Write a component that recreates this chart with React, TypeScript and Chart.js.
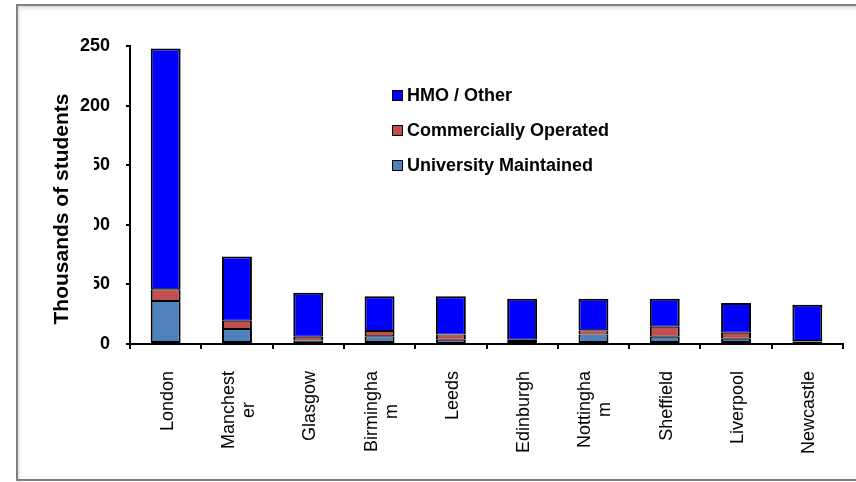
import React, { useEffect, useRef } from "react";
import { Chart, registerables } from "chart.js";

Chart.register(...registerables);

// Cities, with the label wrapping used on the category axis
const cities: string[][] = [
  ["London"],
  ["Manchest", "er"],
  ["Glasgow"],
  ["Birmingha", "m"],
  ["Leeds"],
  ["Edinburgh"],
  ["Nottingha", "m"],
  ["Sheffield"],
  ["Liverpool"],
  ["Newcastle"],
];

// Thousands of students by accommodation type
const universityMaintained = [36, 12.5, 3, 6.5, 3.5, 2.5, 8, 6, 4.5, 2];
const commerciallyOperated = [10, 7, 3, 4.5, 4.5, 1, 3.5, 8.5, 5, 0.5];
const hmoOther = [202, 54, 37, 29, 32, 34.5, 26.5, 23.5, 25, 30.5];

const yMin = 0;
const yMax = 250;
const yStep = 50;

const axisTitle = "Thousands of students";
const FONT = '"Liberation Sans", Arial, sans-serif';

const framePlugin = {
  id: "frame",
  beforeDraw(chart: any) {
    const { ctx, width, height } = chart;
    ctx.save();
    ctx.fillStyle = "#ffffff";
    ctx.fillRect(0, 0, width, height);
    // soft inner shade along top and left edges
    const gTop = ctx.createLinearGradient(0, 6, 0, 13);
    gTop.addColorStop(0, "rgba(200,200,200,0.7)");
    gTop.addColorStop(1, "rgba(255,255,255,0)");
    ctx.fillStyle = gTop;
    ctx.fillRect(18, 6, width, 7);
    const gLeft = ctx.createLinearGradient(18, 0, 24, 0);
    gLeft.addColorStop(0, "rgba(210,210,210,0.6)");
    gLeft.addColorStop(1, "rgba(255,255,255,0)");
    ctx.fillStyle = gLeft;
    ctx.fillRect(18, 6, 6, height);
    ctx.strokeStyle = "#808080";
    ctx.lineWidth = 2;
    ctx.strokeRect(17, 5, width + 20, 475);
    ctx.restore();
  },
};

const overlayPlugin = {
  id: "overlay",
  afterDraw(chart: any) {
    const { ctx, chartArea } = chart;
    const xScale = chart.scales.x;
    ctx.save();

    // category labels, rotated, wrapped lines centred in their block
    ctx.fillStyle = "#000000";
    ctx.font = `18px ${FONT}`;
    ctx.textBaseline = "middle";
    ctx.textAlign = "center";
    const lineH = 20;
    const labels = chart.data.labels as string[][];
    labels.forEach((lines, i) => {
      const x = xScale.getPixelForTick(i) + 2;
      const yTop = chartArea.bottom + 27;
      const blockW = Math.max(...lines.map((l) => ctx.measureText(l).width));
      ctx.save();
      ctx.translate(x, yTop);
      ctx.rotate(-Math.PI / 2);
      lines.forEach((line, j) => {
        const off = (j - (lines.length - 1) / 2) * lineH;
        ctx.fillText(line, -blockW / 2, off);
      });
      ctx.restore();
    });

    // axis title box and text
    ctx.fillStyle = "#ffffff";
    ctx.fillRect(40, 120, 54, 210);
    ctx.fillStyle = "#000000";
    ctx.font = `bold 21px ${FONT}`;
    ctx.textAlign = "center";
    ctx.textBaseline = "middle";
    ctx.translate(62, 209);
    ctx.rotate(-Math.PI / 2);
    ctx.fillText(axisTitle, 0, 0);
    ctx.restore();

    // legend, listed top-down in reverse stacking order
    ctx.save();
    ctx.font = `bold 18px ${FONT}`;
    ctx.textAlign = "left";
    ctx.textBaseline = "middle";
    const ds = chart.data.datasets;
    const lx = chartArea.left + 262;
    const ly = chartArea.top + 49;
    for (let k = 0; k < ds.length; k++) {
      const d = ds[ds.length - 1 - k];
      const cy = ly + k * 35;
      ctx.fillStyle = d.backgroundColor;
      ctx.fillRect(lx, cy - 5, 11, 11);
      ctx.strokeStyle = "#000000";
      ctx.lineWidth = 1;
      ctx.strokeRect(lx + 0.5, cy - 4.5, 10, 10);
      ctx.fillStyle = "#000000";
      ctx.fillText(d.label, lx + 15, cy + 1);
    }
    ctx.restore();
  },
};

export default function App() {
  const canvasRef = useRef<HTMLCanvasElement | null>(null);

  useEffect(() => {
    if (!canvasRef.current) return;
    const barStyle = {
      borderColor: "#000000",
      borderSkipped: false as const,
      barPercentage: 0.42,
      categoryPercentage: 1,
    };
    const chart = new Chart(canvasRef.current, {
      type: "bar",
      data: {
        labels: cities,
        datasets: [
          {
            label: "University Maintained",
            data: universityMaintained,
            backgroundColor: "#4F81BD",
            borderWidth: { top: 1, bottom: 2, left: 2, right: 2 },
            ...barStyle,
          },
          {
            label: "Commercially Operated",
            data: commerciallyOperated,
            backgroundColor: "#C0504D",
            borderWidth: { top: 1, bottom: 1, left: 2, right: 2 },
            ...barStyle,
          },
          {
            label: "HMO / Other",
            data: hmoOther,
            backgroundColor: "#0000FF",
            borderWidth: { top: 2, bottom: 1, left: 2, right: 2 },
            ...barStyle,
          },
        ],
      },
      options: {
        animation: false,
        responsive: false,
        layout: { padding: { top: 46, right: 13, bottom: 0, left: 0 } },
        plugins: {
          legend: { display: false },
          tooltip: { enabled: false },
        },
        scales: {
          x: {
            stacked: true,
            ticks: { display: false },
            grid: {
              display: true,
              drawOnChartArea: false,
              drawTicks: true,
              tickLength: 5,
              color: "#000000",
              lineWidth: 2,
              offset: true,
            },
            border: { display: true, color: "#000000", width: 2 },
            afterFit(scale: any) {
              scale.height = 138;
            },
          },
          y: {
            stacked: true,
            min: yMin,
            max: yMax,
            ticks: {
              stepSize: yStep,
              color: "#000000",
              padding: 16,
              font: { family: FONT, size: 18, weight: "bold" },
            },
            grid: {
              display: true,
              drawOnChartArea: false,
              drawTicks: true,
              tickLength: 4,
              color: "#000000",
              lineWidth: 2,
            },
            border: { display: true, color: "#000000", width: 2 },
            afterFit(scale: any) {
              scale.width = 130;
            },
          },
        },
      },
      plugins: [framePlugin, overlayPlugin],
    });
    return () => chart.destroy();
  }, []);

  return (
    <div style={{ position: "fixed", left: 0, top: 0, width: 856, height: 482, background: "#fff" }}>
      <canvas ref={canvasRef} width={856} height={482} style={{ display: "block" }} />
    </div>
  );
}
